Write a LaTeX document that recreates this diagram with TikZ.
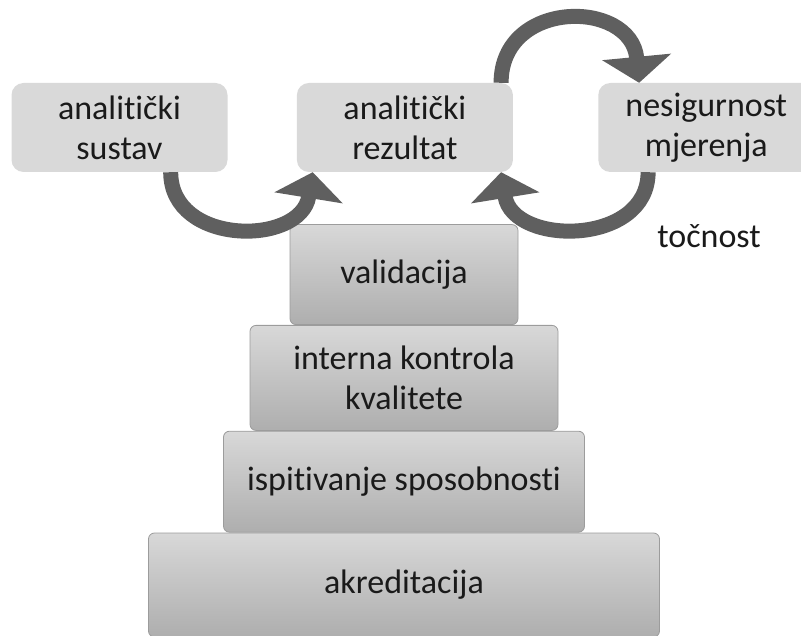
\documentclass[tikz,border=0pt]{standalone}
\usepackage{fontspec}
\setmainfont{Carlito}[Ligatures=NoCommon]
\usepackage{tikz}
\usetikzlibrary{positioning,arrows.meta}
\definecolor{boxgray}{HTML}{D9D9D9}
\definecolor{arrowgray}{HTML}{5F5F5F}
\definecolor{stepedge}{HTML}{9C9C9C}
\definecolor{steptop}{HTML}{D8D8D8}
\definecolor{stepbottom}{HTML}{AEAEAE}
\definecolor{textgray}{HTML}{1A1A1A}

\begin{document}
\begin{tikzpicture}[x=1pt, y=-1pt, node distance={0pt},
    font=\fontsize{34}{40}\selectfont, text=textgray,
    topbox/.style={fill=boxgray, rounded corners=12pt, minimum width=216pt, minimum height=89pt, align=center},
    stepbox/.style={draw=stepedge, line width=0.8pt, top color=steptop, bottom color=stepbottom, rounded corners=6pt, align=center}]
    \useasboundingbox (0,0) rectangle (801,636);
    \node[topbox] (1) at (119.5,127.5) {analitički\\sustav};
    \node[topbox] (2) [right=69pt of 1] {analitički\\rezultat};
    \node[topbox] (3) [right=85pt of 2] {nesigurnost\\mjerenja};
    \node (4) at (709,236) {točnost};
    \node[stepbox, minimum width=511pt, minimum height=104pt] (8) at (404,585) {akreditacija};
    \node[stepbox, minimum width=361pt, minimum height=101pt] (7) [above=of 8] {ispitivanje sposobnosti};
    \node[stepbox, minimum width=308pt, minimum height=105pt] (6) [above=of 7] {interna kontrola\\kvalitete};
    \node[stepbox, minimum width=228pt, minimum height=100pt] (5) [above=of 6] {validacija};
\begin{scope}[line width=15pt, draw=arrowgray,
    -{Triangle[width=68pt,length=26pt]}]
    \draw ([xshift=-57pt]1.south east) .. controls +(0,74) and +(-12,74) .. ([xshift=16pt]2.south west);
    \draw ([xshift=50pt]3.south west) .. controls +(0,74) and +(12,74) .. ([xshift=-12pt]2.south east);
    \draw ([xshift=-12pt]2.north east) .. controls +(0,-84) and +(-8,-84) .. ([xshift=41pt]3.north west);
\end{scope}
\end{tikzpicture}
\end{document}
